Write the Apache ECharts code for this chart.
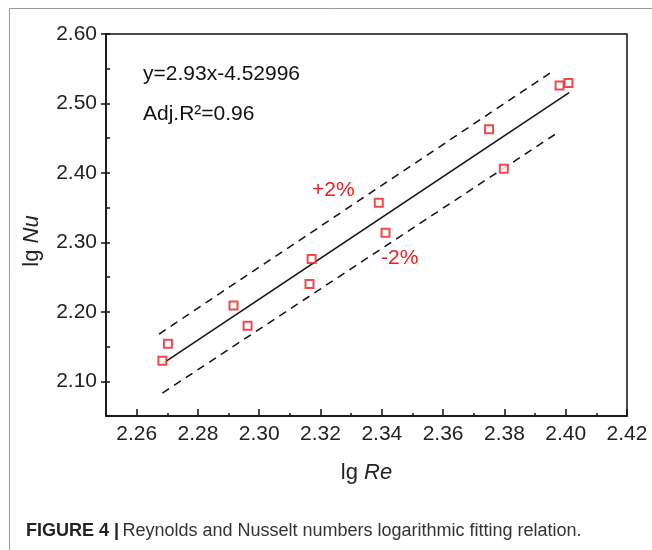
<!DOCTYPE html>
<html>
<head>
<meta charset="utf-8">
<title>lg Nu vs lg Re</title>
<script src="https://cdn.jsdelivr.net/npm/echarts@6/dist/echarts.min.js"></script>
<style>
  html, body { margin: 0; padding: 0; background: #fff; }
  #chart { width: 652px; height: 550px; }
</style>
</head>
<body>
<div id="chart"></div>
<script>
// measured points (lg Re, lg Nu)
const lgRe = [2.2684, 2.2702, 2.2916, 2.2962, 2.3171, 2.3164, 2.3390, 2.3412, 2.3750, 2.3798, 2.3980, 2.4009];
const lgNu = [2.1295, 2.1540, 2.2090, 2.1800, 2.2760, 2.2400, 2.3570, 2.3140, 2.4630, 2.4060, 2.5260, 2.5295];

// fitted line and the +/-2% bands, end points as drawn
const fitLine = [[2.2687, 2.1260], [2.4011, 2.5155]];
const upperLine = [[2.2673, 2.1680], [2.3953, 2.5450]];
const lowerLine = [[2.2684, 2.0830], [2.3966, 2.4557]];

// tick labels (every other one is shown)
const xTickLabels = ["2.25", "2.26", "2.27", "2.28", "2.29", "2.30", "2.31", "2.32", "2.33",
  "2.34", "2.35", "2.36", "2.37", "2.38", "2.39", "2.40", "2.41", "2.42"];
const yTickLabels = ["2.05", "2.10", "2.15", "2.20", "2.25", "2.30", "2.35", "2.40",
  "2.45", "2.50", "2.55", "2.60"];

const FONT = '"Liberation Sans", Arial, sans-serif';
const RED = "#f01c1c";

const points = lgRe.map((x, i) => [x, lgNu[i]]);
const oddIndex = (index) => index % 2 === 1;

const chart = echarts.init(document.getElementById("chart"));

const options = {
  animation: false,
  backgroundColor: "#fff",
  grid: {
    left: 106,
    top: 34,
    right: 25,
    bottom: 134,
    show: true,
    borderColor: "#111",
    borderWidth: 1.5,
  },
  xAxis: [
    {
      // value axis carrying the data, small ticks every 0.01
      type: "value",
      min: 2.25,
      max: 2.42,
      interval: 0.01,
      axisLine: { show: true, lineStyle: { color: "#111", width: 1.5 } },
      axisTick: { show: true, inside: true, length: 3, lineStyle: { color: "#111", width: 1.5 } },
      axisLabel: { show: false },
      splitLine: { show: false },
    },
    {
      // labelled ticks
      type: "category",
      position: "bottom",
      data: xTickLabels,
      boundaryGap: false,
      axisLine: { show: false },
      axisTick: { show: true, inside: true, length: 7, interval: oddIndex, lineStyle: { color: "#111", width: 1.5 } },
      axisLabel: { interval: oddIndex, margin: 8, fontSize: 21, fontFamily: FONT, color: "#222" },
      splitLine: { show: false },
      name: "{n|lg }{i|Re}",
      nameLocation: "middle",
      nameGap: 46,
      nameTextStyle: {
        rich: {
          n: { fontSize: 22, fontFamily: FONT, color: "#222" },
          i: { fontSize: 22, fontFamily: FONT, fontStyle: "italic", color: "#222" },
        },
      },
    },
  ],
  yAxis: [
    {
      type: "value",
      min: 2.05,
      max: 2.6,
      interval: 0.05,
      axisLine: { show: true, lineStyle: { color: "#111", width: 1.5 } },
      axisTick: { show: true, inside: true, length: 4, lineStyle: { color: "#111", width: 1.5 } },
      axisLabel: { show: false },
      splitLine: { show: false },
    },
    {
      type: "category",
      position: "left",
      data: yTickLabels,
      boundaryGap: false,
      axisLine: { show: false },
      axisTick: { show: true, inside: false, length: 5, interval: oddIndex, lineStyle: { color: "#111", width: 1.5 } },
      axisLabel: { interval: oddIndex, margin: 9, fontSize: 21, fontFamily: FONT, color: "#222" },
      splitLine: { show: false },
      name: "{n|lg }{i|Nu}",
      nameLocation: "middle",
      nameGap: 63,
      nameTextStyle: {
        padding: [0, 32, 0, 0],
        rich: {
          n: { fontSize: 22, fontFamily: FONT, color: "#222" },
          i: { fontSize: 22, fontFamily: FONT, fontStyle: "italic", color: "#222" },
        },
      },
    },
  ],
  series: [
    {
      name: "+2%",
      type: "line",
      data: upperLine,
      showSymbol: false,
      lineStyle: { color: "#111", width: 1.5, type: [8, 6] },
      z: 2,
    },
    {
      name: "-2%",
      type: "line",
      data: lowerLine,
      showSymbol: false,
      lineStyle: { color: "#111", width: 1.5, type: [8, 6] },
      z: 2,
    },
    {
      name: "fit",
      type: "line",
      data: fitLine,
      showSymbol: false,
      lineStyle: { color: "#111", width: 1.5 },
      z: 2,
    },
    {
      name: "data",
      type: "scatter",
      data: points,
      symbol: "rect",
      symbolSize: 8,
      itemStyle: { color: "#fff", borderColor: RED, borderWidth: 2 },
      z: 3,
    },
  ],
  graphic: [
    {
      // outer frame of the figure
      type: "polyline",
      shape: { points: [[9.5, 560], [9.5, 8.5], [660, 8.5]] },
      style: { stroke: "#999", lineWidth: 1, fill: null },
    },
    {
      type: "text",
      left: 143,
      top: 64,
      style: { text: "y=2.93x-4.52996", font: "21px " + FONT, fill: "#111" },
    },
    {
      type: "text",
      left: 143,
      top: 104,
      style: { text: "Adj.R²=0.96", font: "21px " + FONT, fill: "#111" },
    },
    {
      type: "text",
      left: 312,
      top: 180,
      style: { text: "+2%", font: "21px " + FONT, fill: RED },
    },
    {
      type: "text",
      left: 381,
      top: 248,
      style: { text: "-2%", font: "21px " + FONT, fill: RED },
    },
    {
      type: "text",
      left: 26,
      top: 522,
      style: {
        text: "{b|FIGURE 4 |} {r|Reynolds and Nusselt numbers logarithmic fitting relation.}",
        rich: {
          b: { fontSize: 18, fontFamily: FONT, fontWeight: "bold", fill: "#222" },
          r: { fontSize: 18, fontFamily: FONT, fill: "#333" },
        },
      },
    },
  ],
};

chart.setOption(options);
</script>
</body>
</html>
